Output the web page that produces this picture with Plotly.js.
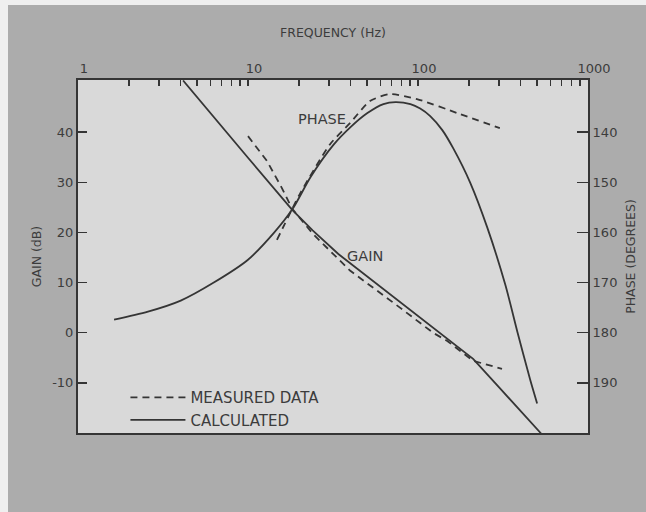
<!DOCTYPE html>
<html>
<head>
<meta charset="utf-8">
<script src="https://cdn.plot.ly/plotly-3.0.1.min.js"></script>
<style>
  html, body { margin: 0; padding: 0; background: #efefef; width: 646px; height: 512px; overflow: hidden; }
  #chart { position: absolute; left: 8px; top: 5px; width: 638px; height: 507px; }
</style>
</head>
<body>
<div id="chart"></div>
<script>
// Frequency axis ticks (Hz)
const freqTickVals = [1,2,3,4,5,6,7,8,9,10,20,30,40,50,60,70,80,90,100,200,300,400,500,600,700,800,900,1000];
const freqTickText = ['1','','','','','','','','','10','','','','','','','','','100','','','','','','','','','1000'];
const gainTickVals = [-10, 0, 10, 20, 30, 40];
const gainTickText = ['-10', '0', '10', '20', '30', '40'];
const phaseTickVals = [140, 150, 160, 170, 180, 190];

// Calculated gain (solid)
const freqGainCalc = [4.15, 6, 10, 18.2, 24, 34, 60, 100, 148, 211, 300, 400, 530];
const gainCalc     = [50.3, 43.8, 34.9, 24.5, 20.4, 15.7, 9.2, 3.3, -1.2, -5.2, -10.9, -15.5, -20.1];

// Measured gain (dashed)
const freqGainMeas = [10, 12.9, 15.8, 18.2, 24.1, 39.8, 78.3, 122.5, 148, 211, 312];
const gainMeas     = [39.2, 34.3, 28.9, 24.7, 19.7, 12.4, 5.0, 0.0, -1.6, -5.6, -7.2];

// Calculated phase (solid)
const freqPhaseCalc = [1.63, 2.58, 4.02, 6.29, 9.96, 14.2, 18.3, 23.4, 31.9, 40.1, 50.4, 62.6, 73.7, 90.2, 103, 118, 139, 161, 203, 256, 326, 384, 457, 502];
const phaseCalc     = [177.4, 175.8, 173.6, 170.0, 165.5, 160.1, 155.3, 148.9, 142.5, 139.0, 136.2, 134.4, 134.0, 134.4, 135.3, 136.8, 139.6, 143.2, 150.1, 159.1, 170.4, 179.8, 189.4, 194.1];

// Measured phase (dashed)
const freqPhaseMeas = [14.8, 20.2, 30.4, 39.8, 52.2, 68.4, 98.6, 177, 303];
const phaseMeas     = [161.5, 152.3, 142.4, 138.2, 133.8, 132.4, 133.4, 136.4, 139.2];

const labelMeasured = 'MEASURED DATA';
const labelCalculated = 'CALCULATED';

const ink = '#353535';
const dashStyle = '7px,5px';

const traces = [
  { x: freqGainMeas, y: gainMeas, yaxis: 'y', mode: 'lines', name: labelMeasured, legendgroup: 'meas',
    showlegend: true, line: { color: ink, width: 1.8, dash: dashStyle } },
  { x: freqPhaseMeas, y: phaseMeas, yaxis: 'y2', mode: 'lines', name: labelMeasured, legendgroup: 'meas',
    showlegend: false, line: { color: ink, width: 1.8, dash: dashStyle, shape: 'spline', smoothing: 0.6 } },
  { x: freqGainCalc, y: gainCalc, yaxis: 'y', mode: 'lines', name: labelCalculated, legendgroup: 'calc',
    showlegend: true, line: { color: ink, width: 1.8 } },
  { x: freqPhaseCalc, y: phaseCalc, yaxis: 'y2', mode: 'lines', name: labelCalculated, legendgroup: 'calc',
    showlegend: false, line: { color: ink, width: 1.8, shape: 'spline', smoothing: 0.8 } }
];

const layout = {
  width: 638, height: 507,
  margin: { l: 70, r: 58, t: 75, b: 79, pad: 0 },
  paper_bgcolor: '#acacac',
  plot_bgcolor: '#d9d9d9',
  font: { family: 'DejaVu Sans', size: 13, color: '#3c3c3c' },
  showlegend: true,
  legend: {
    x: 0.093, y: 0.147, xanchor: 'left', yanchor: 'top',
    bgcolor: 'rgba(0,0,0,0)', itemwidth: 55,
    font: { family: 'DejaVu Sans', size: 15, color: '#3c3c3c' },
    tracegroupgap: 0
  },
  xaxis: {
    type: 'log', range: [0, 3], side: 'top',
    showline: true, mirror: true, linecolor: ink, linewidth: 2,
    ticks: 'inside', ticklen: 6, tickwidth: 1.5, tickcolor: ink,
    tickmode: 'array', tickvals: freqTickVals, ticktext: freqTickText,
    ticklabelshift: 6,
    showgrid: false, zeroline: false,
    tickfont: { size: 13 },
    title: { text: 'FREQUENCY (Hz)', font: { size: 12.5 }, standoff: 20 }
  },
  yaxis: {
    range: [-20, 50.4],
    showline: true, mirror: true, linecolor: ink, linewidth: 2,
    ticks: 'inside', ticklen: 9, tickwidth: 1.5, tickcolor: ink,
    tickmode: 'array', tickvals: gainTickVals, ticktext: gainTickText,
    showgrid: false, zeroline: false,
    tickfont: { size: 13 },
    title: { text: 'GAIN (dB)', font: { size: 12.5 }, standoff: 8 }
  },
  yaxis2: {
    overlaying: 'y', side: 'right', range: [200, 129.6],
    showline: true, linecolor: ink, linewidth: 2,
    ticks: 'inside', ticklen: 11, tickwidth: 1.5, tickcolor: ink,
    tickmode: 'array', tickvals: phaseTickVals,
    showgrid: false, zeroline: false,
    tickfont: { size: 13 },
    title: { text: 'PHASE (DEGREES)', font: { size: 12.5 }, standoff: 10 }
  },
  annotations: [
    { text: 'PHASE', xref: 'x', yref: 'y', x: 1.435, y: 42.6, showarrow: false,
      font: { size: 14.5, color: '#3c3c3c' } },
    { text: 'GAIN', xref: 'x', yref: 'y', x: 1.69, y: 15.3, showarrow: false,
      font: { size: 14.5, color: '#3c3c3c' } }
  ]
};

Plotly.newPlot('chart', traces, layout, { displayModeBar: false, staticPlot: true });
</script>
</body>
</html>
